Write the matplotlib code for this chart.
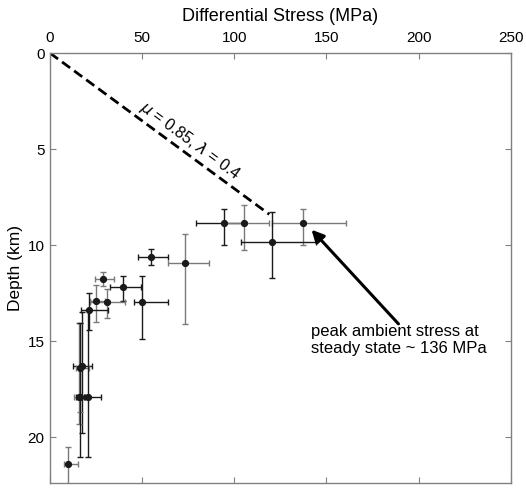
import matplotlib
matplotlib.use('Agg')
import matplotlib.pyplot as plt
import numpy as np

plt.rcParams['font.family'] = ['Liberation Sans', 'DejaVu Sans']

# stress (MPa) and depth (km) of each estimate, with lower/upper bounds
stress = [94.6, 105.1, 137.4, 120.5, 54.6, 73.3, 28.6, 39.4, 49.7, 30.9,
          24.9, 21.3, 17.5, 16.5, 15.7, 16.5, 20.6, 9.9]
stress_lo = [79.3, 95.0, 120.7, 103.9, 47.8, 64.3, 24.6, 32.7, 45.8, 21.8,
             21.5, 16.6, 12.6, 14.0, 13.0, 14.0, 19.0, 7.7]
stress_hi = [105.0, 118.9, 160.7, 144.3, 64.3, 86.2, 34.7, 49.6, 64.3, 40.8,
             30.0, 31.3, 22.9, 21.0, 19.0, 18.5, 27.7, 15.0]
depth = [8.87, 8.87, 8.87, 9.86, 10.63, 10.94, 11.75, 12.2, 12.97, 12.97,
         12.9, 13.4, 16.3, 16.4, 17.9, 17.9, 17.9, 21.4]
depth_lo = [8.1, 7.9, 8.1, 8.26, 10.22, 9.44, 11.39, 11.6, 11.6, 12.3,
            12.08, 12.5, 13.5, 14.06, 14.06, 14.06, 13.4, 20.5]
depth_hi = [10.0, 10.24, 10.0, 11.7, 11.06, 14.1, 12.14, 12.9, 14.9, 13.8,
            14.0, 14.4, 19.8, 18.7, 19.3, 21.06, 21.06, 23.0]
bar_color = ['k', 'g', 'g', 'k', 'k', 'g', 'g', 'k', 'k', 'g',
             'g', 'k', 'k', 'g', 'g', 'k', 'k', 'g']

# frictional strength line
line_stress = [0, 119]
line_depth = [0, 8.4]

fig = plt.figure(figsize=(5.26, 4.96), dpi=100)
ax = fig.add_axes([0.095, 0.026, 0.876, 0.867])

for i in range(len(stress)):
    c = '#1a1a1a' if bar_color[i] == 'k' else '#7a7a7a'
    ax.errorbar(stress[i], depth[i],
                xerr=[[stress[i] - stress_lo[i]], [stress_hi[i] - stress[i]]],
                yerr=[[depth[i] - depth_lo[i]], [depth_hi[i] - depth[i]]],
                fmt='none', ecolor=c, elinewidth=1.0, capsize=2.5, capthick=1.0)
ax.plot(stress, depth, 'o', color='#1a1a1a', markersize=4.2, zorder=5)

ax.plot(line_stress, line_depth, color='k', lw=2.0, dashes=(3.6, 1.8))
ax.text(76, 4.6, r'$\mu$ = 0.85, $\lambda$ = 0.4', rotation=-36.3,
        rotation_mode='anchor', ha='center', va='center', fontsize=11.5)

ax.annotate('peak ambient stress at\nsteady state ~ 136 MPa',
            xy=(141.9, 9.2), xytext=(141.4, 14.95), fontsize=12,
            ha='left', va='center',
            arrowprops=dict(arrowstyle='-|>', color='k', lw=2.2,
                            mutation_scale=18, shrinkA=0, shrinkB=0,
                            patchA=None, relpos=(0.5, 1.0)))

ax.set_xlim(0, 250)
ax.set_ylim(22.4, 0)
ax.set_xticks([0, 50, 100, 150, 200, 250])
ax.set_yticks([0, 5, 10, 15, 20])
ax.xaxis.set_label_position('top')
ax.set_xlabel('Differential Stress (MPa)', fontsize=13, labelpad=7)
ax.set_ylabel('Depth (km)', fontsize=12.5, labelpad=3)
ax.tick_params(direction='in', top=True, right=True, bottom=True,
               labeltop=True, labelbottom=False, length=4, width=0.8,
               color='#808080', labelsize=11)
ax.tick_params(axis='x', pad=6)
ax.tick_params(axis='y', pad=4)
for s in ax.spines.values():
    s.set_color('#808080')
    s.set_linewidth(1.0)

plt.savefig('out.png', dpi=100)
